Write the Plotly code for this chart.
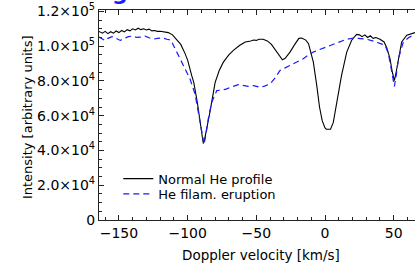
import plotly.graph_objects as go

# Doppler velocity (km/s) and intensity samples
normal_v = [-164.5, -162, -160, -158, -156, -154, -152, -150, -148, -146, -144, -142, -140, -138,
            -136, -134, -132, -130, -128, -126, -124, -122, -120, -117, -114, -111, -108, -105,
            -102, -100, -97, -95.5, -93, -91, -89.5, -88.6, -87.5, -86, -84, -82, -80, -77, -74,
            -70, -66.7, -62, -58, -54, -52, -50, -48, -45, -42, -39, -36, -33, -31, -29, -25.5,
            -22, -19, -17, -14, -12, -10, -8.5, -6, -4, -2, 0, 1, 4, 6, 8.5, 12, 15.8, 19.4, 23,
            25, 27, 29, 31, 33, 35, 37, 40, 43, 45, 47.3, 49, 50.5, 52, 53, 55.8, 59.5, 62, 64, 65.5]
normal_i = [108500, 107500, 108500, 107200, 108300, 107500, 108700, 107800, 109000, 108200,
            109500, 108800, 110000, 109300, 110300, 109500, 110000, 109300, 109800, 108800,
            109000, 108500, 108600, 108300, 107800, 106500, 104000, 101000, 96000, 92000,
            83000, 79000, 68000, 57000, 47000, 44000, 47000, 54000, 61000, 70000, 79000,
            86000, 90800, 95000, 97600, 100500, 102400, 103000, 103500, 103300, 104000,
            104000, 103000, 101000, 97600, 94000, 92200, 93000, 96600, 101000, 104500,
            104700, 103500, 101400, 96000, 90800, 77300, 65000, 57000, 53000, 52200, 52200,
            56000, 67600, 83100, 96600, 103400, 106800, 106500, 105500, 106500, 105000,
            106000, 104500, 105000, 104000, 102400, 99000, 92800, 85000, 80200, 86000,
            90800, 102400, 106300, 107000, 107500, 107800]

erupt_v = [-164.5, -162, -160, -158, -155, -152, -149, -146, -143, -140, -137, -134, -131, -128,
           -125, -122, -118, -115, -112, -110, -107, -104.3, -101, -98.3, -94.6, -91, -88,
           -86.5, -85, -82.5, -78.8, -75.2, -72, -69, -66, -63, -60, -56, -52, -47.3, -44, -40,
           -36, -32.8, -29, -25.5, -20, -15.8, -12, -8.5, -4, 1.2, 6, 10.9, 15, 20.6, 25, 30.3,
           34, 37.6, 41, 43.7, 46, 47.3, 49, 50.5, 52, 53.4, 57, 61, 65.5]
erupt_i = [105300, 104000, 103200, 104500, 105500, 104500, 103300, 104500, 105500, 105800,
           105000, 105200, 105800, 104800, 104000, 104500, 104700, 104000, 103400, 100000,
           95000, 90800, 86000, 81200, 72500, 56000, 43500, 50000, 58000, 67600, 74400,
           74800, 75300, 76300, 77000, 77900, 77500, 76900, 77300, 76300, 77000, 78300,
           82000, 86000, 87500, 88900, 91000, 92800, 95000, 96600, 98000, 99500, 101000,
           102400, 103800, 104700, 104300, 104000, 103200, 102400, 101300, 100500, 96000,
           90800, 82000, 76900, 84000, 92800, 102400, 105000, 106800]

series_names = ["Normal He profile", "He filam. eruption"]
x_tick_vals = [-150, -100, -50, 0, 50]
x_tick_text = ["\u2212150", "\u2212100", "\u221250", "0", "50"]
y_tick_vals = [0, 20000, 40000, 60000, 80000, 100000, 120000]
y_tick_text = ["0", "2.0\u00d710<sup>4</sup>", "4.0\u00d710<sup>4</sup>", "6.0\u00d710<sup>4</sup>",
               "8.0\u00d710<sup>4</sup>", "1.0\u00d710<sup>5</sup>", "1.2\u00d710<sup>5</sup>"]
x_title = "Doppler velocity [km/s]"
y_title = "Intensity [arbitrary units]"
title_fragment = "<b>g</b>"

FONT = "DejaVu Sans"

fig = go.Figure()
fig.add_trace(go.Scatter(x=normal_v, y=normal_i, mode="lines", name=series_names[0],
                         line=dict(color="black", width=1.1), legend="legend"))
fig.add_trace(go.Scatter(x=erupt_v, y=erupt_i, mode="lines", name=series_names[1],
                         line=dict(color="#1a1aff", width=1.2, dash="6px,4px"), legend="legend2"))

legend_common = dict(xanchor="left", yanchor="middle", bgcolor="rgba(0,0,0,0)", borderwidth=0,
                     font=dict(family=FONT, size=13, color="black"), itemwidth=30)

fig.update_layout(
    width=415, height=264,
    margin=dict(l=99, r=0, t=10, b=44, autoexpand=False),
    paper_bgcolor="white", plot_bgcolor="white",
    font=dict(family=FONT, size=13, color="black"),
    showlegend=True,
    legend=dict(x=0.061, y=(220 - 178.7) / 210, **legend_common),
    legend2=dict(x=0.061, y=(220 - 194) / 210, **legend_common),
    xaxis=dict(range=[-164.5, 65.5], showgrid=False, zeroline=False, automargin=False,
               showline=True, linecolor="#222", linewidth=1.2, mirror="allticks",
               ticks="inside", ticklen=5, tickcolor="#222", tickwidth=1,
               tickvals=x_tick_vals, ticktext=x_tick_text, ticklabeloverflow="allow",
               tickfont=dict(family=FONT, size=14),
               minor=dict(dtick=10, tick0=0, ticks="inside", ticklen=3, tickcolor="#222", tickwidth=1)),
    yaxis=dict(range=[0, 120800], showgrid=False, zeroline=False, automargin=False,
               showline=True, linecolor="#222", linewidth=1.2, mirror=False,
               ticks="inside", ticklen=5, tickcolor="#222", tickwidth=1,
               tickvals=y_tick_vals, ticktext=y_tick_text, ticklabeloverflow="allow",
               tickfont=dict(family=FONT, size=14),
               ticklabelstandoff=0,
               minor=dict(dtick=5000, tick0=0, ticks="inside", ticklen=3, tickcolor="#222", tickwidth=1)),
    annotations=[
        dict(text=x_title, xref="paper", yref="paper", x=(261 - 99) / 316, y=-0.12,
             xanchor="center", yanchor="top", showarrow=False,
             font=dict(family=FONT, size=13.5, color="black")),
        dict(text=y_title, xref="paper", yref="paper", x=-(99 - 27) / 316, y=0.49,
             xanchor="center", yanchor="middle", textangle=-90, showarrow=False,
             font=dict(family=FONT, size=13, color="black")),
        dict(text=title_fragment, xref="paper", yref="paper", x=(120 - 99) / 316, y=1.014,
             xanchor="center", yanchor="bottom", showarrow=False,
             font=dict(family=FONT, size=22, color="#1a1aff")),
    ],
)

fig.write_html("out.html", config={"displayModeBar": False},
               post_script="document.body.style.margin='0';document.body.style.padding='0';")
